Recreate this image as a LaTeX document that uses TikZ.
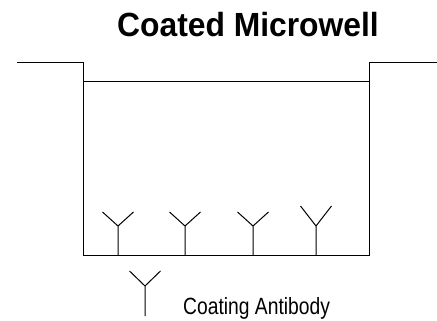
\documentclass[tikz,border=0pt]{standalone}
\usepackage{fontspec}
\setmainfont{Liberation Sans}
\newfontfamily\titlefont[FakeStretch=0.95]{Liberation Sans}
\newfontfamily\keyfont[FakeStretch=0.82]{Liberation Sans}
\usepackage{tikz}

\begin{document}
\begin{tikzpicture}[x=1pt,y=-1pt]
	
	\useasboundingbox (0,0) rectangle (437,321);
	
	\coordinate (ledgeL) at (17,62.5);
	\coordinate (rimL) at (83.5,62.5);
	\coordinate (baseL) at (83.5,255);
	\coordinate (baseR) at (369.5,255);
	\coordinate (rimR) at (369.5,62.5);
	\coordinate (ledgeR) at (437,62.5);
	\coordinate (fluidL) at (83.5,82);
	\coordinate (fluidR) at (369.5,82);
	\draw[line width=1pt] (ledgeL) -- (rimL) -- (baseL) -- (baseR) -- (rimR) -- (ledgeR);
	\draw[line width=1pt] (fluidL) -- (fluidR);
	
	\foreach \x/\t in {118/212,185/212,253/212,316/206}{
		\draw[line width=1pt] (\x,255) -- (\x,226) -- (\x-15.5,\t);
		\draw[line width=1pt] (\x,226) -- (\x+15.5,\t);
	}
	
	\coordinate (key) at (145,286);
	\draw[line width=1pt] (145,316) -- (key) -- (129.5,271);
	\draw[line width=1pt] (key) -- (160.5,271);
	
	\node[anchor=base,inner sep=0pt,font=\titlefont\bfseries\fontsize{33.5}{38}\selectfont] (title) at (248,37) {Coated Microwell};
	\node[anchor=base west,inner sep=0pt,font=\keyfont\fontsize{23.5}{27}\selectfont] (keylabel) at (183,314) {Coating Antibody};
	
\end{tikzpicture}
\end{document}
